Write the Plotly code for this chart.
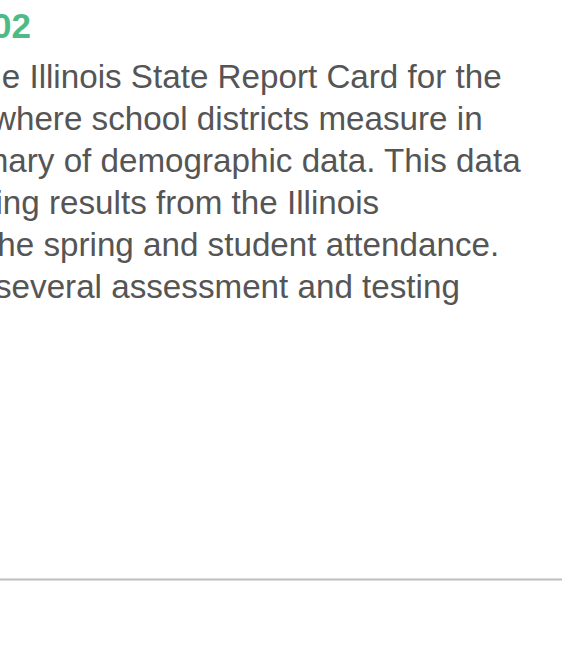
import plotly.graph_objects as go

W, H = 562, 652

title_text = "2002"
body_lines = [
    "The Illinois State Report Card for the",
    "year is where school districts measure in",
    "summary of demographic data. This data",
    "testing results from the Illinois",
    "in the spring and student attendance.",
    "several assessment and testing",
]
# right edge (px) and vertical centre (px from top) of each line
line_right = [504, 485, 523, 381, 501, 462]
line_center = [76, 118, 160, 202, 244, 286]
title_right, title_center = 33, 25.5
rule_y = 579.5

FONT = "Helvetica, Arial, Liberation Sans"
fig = go.Figure()
ann = []
ann.append(dict(text="<b>%s</b>" % title_text, x=title_right / W, y=1 - title_center / H,
                xref="paper", yref="paper", xanchor="right", yanchor="middle",
                showarrow=False, font=dict(family=FONT, size=35, color="#4dba87")))
for t, r, c in zip(body_lines, line_right, line_center):
    ann.append(dict(text=t, x=r / W, y=1 - c / H, xref="paper", yref="paper",
                    xanchor="right", yanchor="middle", showarrow=False,
                    font=dict(family=FONT, size=33.2, color="#555555")))
fig.update_layout(
    width=W, height=H, margin=dict(l=0, r=0, t=0, b=0),
    paper_bgcolor="white", plot_bgcolor="white",
    xaxis=dict(visible=False, range=[0, 1]), yaxis=dict(visible=False, range=[0, 1]),
    annotations=ann,
    shapes=[dict(type="line", xref="paper", yref="paper", x0=0, x1=1,
                 y0=1 - rule_y / H, y1=1 - rule_y / H, line=dict(color="#bdbdbd", width=2))],
    showlegend=False,
)
fig.write_html("out.html", config={"displayModeBar": False},
               post_script="document.body.style.margin='0';document.body.style.overflow='hidden';")
